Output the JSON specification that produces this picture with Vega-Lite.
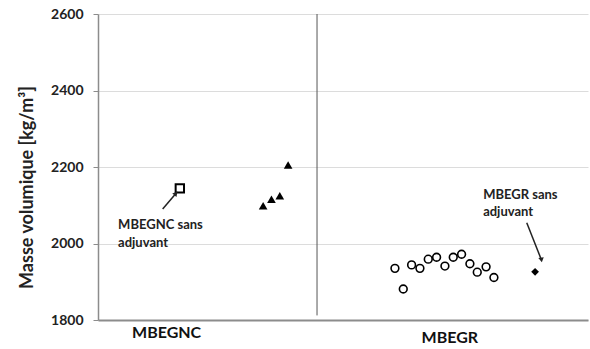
{
  "$schema": "https://vega.github.io/schema/vega-lite/v6.json",
  "width": 490,
  "height": 306,
  "autosize": "none",
  "padding": {"left": 98, "top": 14, "right": 2, "bottom": 29},
  "background": "white",
  "config": {"view": {"stroke": null}, "font": "Lato"},
  "datasets": {
    "points": [
      {"serie": "MBEGNC sans adjuvant", "x": 16.7, "v": 2144},
      {"serie": "MBEGNC", "x": 33.7, "v": 2099},
      {"serie": "MBEGNC", "x": 35.4, "v": 2116},
      {"serie": "MBEGNC", "x": 37.1, "v": 2125},
      {"serie": "MBEGNC", "x": 38.8, "v": 2205},
      {"serie": "MBEGR", "x": 60.6, "v": 1935},
      {"serie": "MBEGR", "x": 62.3, "v": 1881},
      {"serie": "MBEGR", "x": 64.0, "v": 1944},
      {"serie": "MBEGR", "x": 65.7, "v": 1935},
      {"serie": "MBEGR", "x": 67.4, "v": 1959},
      {"serie": "MBEGR", "x": 69.1, "v": 1964},
      {"serie": "MBEGR", "x": 70.8, "v": 1941},
      {"serie": "MBEGR", "x": 72.5, "v": 1964},
      {"serie": "MBEGR", "x": 74.2, "v": 1972},
      {"serie": "MBEGR", "x": 75.9, "v": 1947},
      {"serie": "MBEGR", "x": 77.4, "v": 1925},
      {"serie": "MBEGR", "x": 79.2, "v": 1939},
      {"serie": "MBEGR", "x": 80.8, "v": 1911},
      {"serie": "MBEGR sans adjuvant", "x": 89.2, "v": 1926}
    ],
    "arrows": [
      {"x": 13.2, "v": 2090, "x2": 15.9, "v2": 2131, "angle": 40},
      {"x": 87.5, "v": 2054, "x2": 90.5, "v2": 1957, "angle": 170}
    ],
    "notes": [
      {"x": 4.1, "v": 2048, "t": "MBEGNC sans"},
      {"x": 4.1, "v": 2001, "t": "adjuvant"},
      {"x": 78.6, "v": 2127, "t": "MBEGR sans"},
      {"x": 78.6, "v": 2082, "t": "adjuvant"}
    ],
    "cats": [
      {"x": 14.0, "v": 1766, "t": "MBEGNC"},
      {"x": 71.8, "v": 1753, "t": "MBEGR"}
    ],
    "divider": [{"x": 44.7, "v": 1812, "v2": 2600}]
  },
  "layer": [
    {
      "data": {"name": "divider"},
      "mark": {"type": "rule", "color": "#555555", "strokeWidth": 1},
      "encoding": {
        "x": {
          "field": "x", "type": "quantitative",
          "scale": {"domain": [0, 100], "nice": false, "zero": false},
          "axis": {"labels": false, "ticks": false, "grid": false, "title": null, "domainColor": "#8c8c8c", "domainWidth": 2}
        },
        "y": {
          "field": "v", "type": "quantitative",
          "scale": {"domain": [1800, 2600], "nice": false, "zero": false},
          "axis": {
            "values": [1800, 1900, 2000, 2100, 2200, 2300, 2400, 2500, 2600],
            "labelExpr": "datum.value % 200 === 0 ? datum.label : ''",
            "format": "d",
            "tickOpacity": {"condition": {"test": "datum.value % 200 === 0", "value": 1}, "value": 0},
            "tickSize": 5,
            "tickColor": "#8c8c8c",
            "gridColor": "#dcdcdc",
            "gridWidth": 1,
            "domainColor": "#8c8c8c",
            "domainWidth": 1.5,
            "labelFont": "Lato",
            "labelFontWeight": "bold",
            "labelFontSize": 14,
            "labelColor": "#222222",
            "labelPadding": 10,
            "title": "Masse volumique  [kg/m³]",
            "titleFont": "Lato",
            "titleFontWeight": "bold",
            "titleFontSize": 18,
            "titleColor": "#222222",
            "titlePadding": 14,
            "titleY": 173
          }
        },
        "y2": {"field": "v2"}
      }
    },
    {
      "data": {"name": "points"},
      "transform": [{"filter": "datum.serie === 'MBEGNC sans adjuvant'"}],
      "mark": {"type": "point", "shape": "square", "filled": false, "stroke": "black", "strokeWidth": 2, "size": 70, "opacity": 1},
      "encoding": {"x": {"field": "x", "type": "quantitative"}, "y": {"field": "v", "type": "quantitative"}}
    },
    {
      "data": {"name": "points"},
      "transform": [{"filter": "datum.serie === 'MBEGNC'"}],
      "mark": {"type": "point", "shape": "triangle-up", "filled": true, "fill": "black", "size": 75, "opacity": 1},
      "encoding": {"x": {"field": "x", "type": "quantitative"}, "y": {"field": "v", "type": "quantitative"}}
    },
    {
      "data": {"name": "points"},
      "transform": [{"filter": "datum.serie === 'MBEGR'"}],
      "mark": {"type": "point", "shape": "circle", "filled": false, "stroke": "black", "strokeWidth": 1.6, "size": 60, "opacity": 1},
      "encoding": {"x": {"field": "x", "type": "quantitative"}, "y": {"field": "v", "type": "quantitative"}}
    },
    {
      "data": {"name": "points"},
      "transform": [{"filter": "datum.serie === 'MBEGR sans adjuvant'"}],
      "mark": {"type": "point", "shape": "diamond", "filled": true, "fill": "black", "size": 60, "opacity": 1},
      "encoding": {"x": {"field": "x", "type": "quantitative"}, "y": {"field": "v", "type": "quantitative"}}
    },
    {
      "data": {"name": "arrows"},
      "mark": {"type": "rule", "color": "#222222", "strokeWidth": 1.5},
      "encoding": {
        "x": {"field": "x", "type": "quantitative"},
        "y": {"field": "v", "type": "quantitative"},
        "x2": {"field": "x2"},
        "y2": {"field": "v2"}
      }
    },
    {
      "data": {"name": "arrows"},
      "mark": {"type": "point", "shape": "triangle-up", "filled": true, "fill": "#222222", "size": 30, "opacity": 1},
      "encoding": {
        "x": {"field": "x2", "type": "quantitative"},
        "y": {"field": "v2", "type": "quantitative"},
        "angle": {"field": "angle", "type": "quantitative", "scale": null}
      }
    },
    {
      "data": {"name": "notes"},
      "mark": {"type": "text", "align": "left", "baseline": "middle", "font": "Lato", "fontWeight": "bold", "fontSize": 13, "color": "#222222"},
      "encoding": {
        "x": {"field": "x", "type": "quantitative"},
        "y": {"field": "v", "type": "quantitative"},
        "text": {"field": "t"}
      }
    },
    {
      "data": {"name": "cats"},
      "mark": {"type": "text", "align": "center", "baseline": "middle", "font": "Lato", "fontWeight": "bold", "fontSize": 16, "color": "#111111"},
      "encoding": {
        "x": {"field": "x", "type": "quantitative"},
        "y": {"field": "v", "type": "quantitative"},
        "text": {"field": "t"}
      }
    }
  ]
}
